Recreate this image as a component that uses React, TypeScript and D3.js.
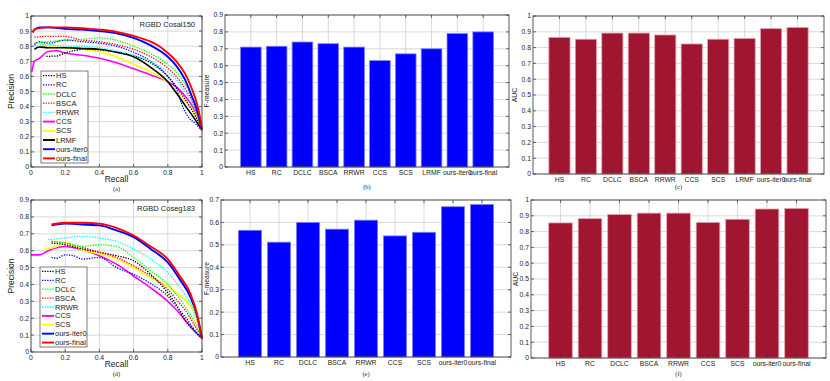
import React, { useRef, useEffect } from 'react';
import * as d3 from 'd3';

// method names / bar values
const methodsTop = ['HS', 'RC', 'DCLC', 'BSCA', 'RRWR', 'CCS', 'SCS', 'LRMF', 'ours-iter0', 'ours-final'];
const fmeasureTop = [0.71, 0.715, 0.74, 0.73, 0.71, 0.63, 0.67, 0.70, 0.79, 0.80];
const aucTop = [0.865, 0.853, 0.892, 0.892, 0.88, 0.823, 0.853, 0.858, 0.92, 0.928];

const methodsBottom = ['HS', 'RC', 'DCLC', 'BSCA', 'RRWR', 'CCS', 'SCS', 'ours-iter0', 'ours-final'];
const fmeasureBottom = [0.565, 0.512, 0.60, 0.57, 0.61, 0.54, 0.556, 0.67, 0.68];
const aucBottom = [0.855, 0.882, 0.908, 0.917, 0.917, 0.858, 0.878, 0.943, 0.947];

// line style per method
const lineColor: Record<string, string> = {
  'HS': '#000000', 'RC': '#0000ff', 'DCLC': '#00ff00', 'BSCA': '#ff0000', 'RRWR': '#00ffff',
  'CCS': '#ff00ff', 'SCS': '#ffff00', 'LRMF': '#000000', 'ours-iter0': '#0000ff', 'ours-final': '#ff0000'
};
const dotted = ['HS', 'RC', 'DCLC', 'BSCA', 'RRWR'];

// PR curves, RGBD Cosal150 : [recall, precision]
const prCosal: Record<string, number[][]> = {
  'CCS': [[0.005, 0.63], [0.02, 0.70], [0.05, 0.72], [0.1, 0.765], [0.15, 0.77], [0.2, 0.755], [0.3, 0.74], [0.4, 0.72], [0.5, 0.69], [0.6, 0.65], [0.7, 0.61], [0.8, 0.565], [0.85, 0.53], [0.9, 0.47], [0.95, 0.39], [1, 0.25]],
  'SCS': [[0.02, 0.82], [0.05, 0.82], [0.1, 0.80], [0.2, 0.79], [0.3, 0.78], [0.4, 0.765], [0.5, 0.73], [0.6, 0.68], [0.7, 0.63], [0.8, 0.56], [0.85, 0.50], [0.9, 0.44], [0.95, 0.37], [1, 0.25]],
  'HS': [[0.09, 0.733], [0.15, 0.735], [0.2, 0.755], [0.25, 0.77], [0.3, 0.78], [0.4, 0.775], [0.5, 0.76], [0.6, 0.735], [0.7, 0.69], [0.8, 0.60], [0.85, 0.53], [0.9, 0.45], [0.95, 0.36], [1, 0.25]],
  'LRMF': [[0.02, 0.78], [0.05, 0.795], [0.1, 0.79], [0.2, 0.79], [0.3, 0.785], [0.4, 0.78], [0.5, 0.76], [0.6, 0.73], [0.7, 0.66], [0.8, 0.565], [0.85, 0.49], [0.9, 0.41], [0.95, 0.33], [1, 0.245]],
  'RRWR': [[0.02, 0.80], [0.1, 0.81], [0.2, 0.80], [0.3, 0.80], [0.4, 0.79], [0.5, 0.77], [0.6, 0.74], [0.7, 0.70], [0.8, 0.63], [0.85, 0.58], [0.9, 0.50], [0.95, 0.40], [1, 0.25]],
  'RC': [[0.02, 0.81], [0.05, 0.83], [0.1, 0.82], [0.2, 0.84], [0.3, 0.83], [0.4, 0.82], [0.5, 0.80], [0.6, 0.76], [0.7, 0.70], [0.8, 0.60], [0.85, 0.52], [0.88, 0.42], [0.92, 0.33], [0.96, 0.29], [1, 0.24]],
  'BSCA': [[0.02, 0.86], [0.1, 0.865], [0.2, 0.865], [0.3, 0.84], [0.4, 0.83], [0.5, 0.81], [0.6, 0.78], [0.7, 0.73], [0.8, 0.655], [0.85, 0.60], [0.9, 0.52], [0.95, 0.42], [1, 0.25]],
  'DCLC': [[0.02, 0.82], [0.1, 0.83], [0.2, 0.84], [0.3, 0.845], [0.4, 0.855], [0.5, 0.84], [0.6, 0.80], [0.7, 0.75], [0.8, 0.68], [0.85, 0.63], [0.9, 0.55], [0.95, 0.44], [1, 0.25]],
  'ours-iter0': [[0.02, 0.91], [0.05, 0.925], [0.1, 0.925], [0.2, 0.915], [0.3, 0.91], [0.4, 0.90], [0.5, 0.885], [0.6, 0.855], [0.7, 0.805], [0.8, 0.73], [0.85, 0.67], [0.9, 0.58], [0.94, 0.47], [0.97, 0.38], [1, 0.245]],
  'ours-final': [[0.01, 0.89], [0.02, 0.91], [0.05, 0.92], [0.1, 0.925], [0.2, 0.925], [0.3, 0.92], [0.4, 0.91], [0.5, 0.895], [0.6, 0.868], [0.7, 0.83], [0.75, 0.80], [0.8, 0.755], [0.85, 0.70], [0.9, 0.62], [0.94, 0.52], [0.97, 0.42], [0.99, 0.32], [1, 0.245]]
};

// PR curves, RGBD Coseg183
const prCoseg: Record<string, number[][]> = {
  'CCS': [[0, 0.575], [0.05, 0.575], [0.1, 0.60], [0.2, 0.625], [0.3, 0.605], [0.4, 0.57], [0.5, 0.52], [0.6, 0.45], [0.7, 0.38], [0.8, 0.30], [0.85, 0.25], [0.9, 0.19], [0.95, 0.13], [1, 0.08]],
  'RC': [[0.12, 0.56], [0.15, 0.555], [0.2, 0.575], [0.25, 0.57], [0.3, 0.55], [0.4, 0.56], [0.5, 0.50], [0.6, 0.46], [0.7, 0.405], [0.8, 0.33], [0.85, 0.27], [0.9, 0.21], [0.95, 0.14], [1, 0.08]],
  'HS': [[0.12, 0.645], [0.2, 0.635], [0.3, 0.61], [0.4, 0.59], [0.5, 0.57], [0.6, 0.54], [0.7, 0.46], [0.8, 0.35], [0.85, 0.28], [0.9, 0.19], [0.95, 0.13], [1, 0.08]],
  'SCS': [[0.08, 0.61], [0.15, 0.625], [0.2, 0.65], [0.3, 0.605], [0.4, 0.58], [0.5, 0.55], [0.6, 0.50], [0.7, 0.44], [0.8, 0.39], [0.85, 0.35], [0.9, 0.31], [0.95, 0.24], [1, 0.08]],
  'BSCA': [[0.12, 0.655], [0.2, 0.645], [0.3, 0.62], [0.4, 0.59], [0.5, 0.56], [0.6, 0.51], [0.7, 0.45], [0.8, 0.37], [0.85, 0.31], [0.9, 0.25], [0.95, 0.17], [1, 0.08]],
  'DCLC': [[0.12, 0.655], [0.2, 0.645], [0.3, 0.625], [0.4, 0.635], [0.5, 0.625], [0.6, 0.56], [0.7, 0.48], [0.8, 0.40], [0.85, 0.34], [0.9, 0.27], [0.95, 0.19], [1, 0.08]],
  'RRWR': [[0.1, 0.665], [0.2, 0.675], [0.3, 0.685], [0.4, 0.675], [0.5, 0.655], [0.6, 0.61], [0.7, 0.55], [0.8, 0.47], [0.85, 0.41], [0.9, 0.34], [0.95, 0.25], [1, 0.08]],
  'ours-iter0': [[0.12, 0.75], [0.2, 0.76], [0.3, 0.755], [0.4, 0.75], [0.5, 0.72], [0.6, 0.68], [0.7, 0.61], [0.8, 0.53], [0.87, 0.43], [0.93, 0.33], [0.97, 0.22], [1, 0.08]],
  'ours-final': [[0.12, 0.755], [0.2, 0.765], [0.3, 0.765], [0.4, 0.76], [0.5, 0.735], [0.6, 0.69], [0.7, 0.625], [0.8, 0.55], [0.87, 0.45], [0.93, 0.35], [0.97, 0.23], [1, 0.08]]
};

const FONT = 'Liberation Sans, Arial, sans-serif';
const GRID = '#cfcfcf';

type Box = { left: number; right: number; top: number; bottom: number };

const fmtTick = (d: number) => String(+d.toFixed(1));

// grid lines behind the marks
function drawGrid(g: any, x: any, y: any, box: Box, xTicks: number[], yTicks: number[]) {
  g.append('g').selectAll('line').data(xTicks).join('line')
    .attr('x1', (d: number) => x(d)).attr('x2', (d: number) => x(d))
    .attr('y1', box.top).attr('y2', box.bottom)
    .attr('stroke', GRID).attr('stroke-width', 0.8);
  g.append('g').selectAll('line').data(yTicks).join('line')
    .attr('x1', box.left).attr('x2', box.right)
    .attr('y1', (d: number) => y(d)).attr('y2', (d: number) => y(d))
    .attr('stroke', GRID).attr('stroke-width', 0.8);
}

// frame + inward ticks on all four sides, and the tick labels
function drawTicks(g: any, x: any, y: any, box: Box, xTicks: number[], yTicks: number[], xLabels: string[], labelDy: number) {
  const t = 3;
  const tk = g.append('g').attr('stroke', '#333').attr('stroke-width', 0.7);
  xTicks.forEach(d => {
    tk.append('line').attr('x1', x(d)).attr('x2', x(d)).attr('y1', box.bottom).attr('y2', box.bottom - t);
    tk.append('line').attr('x1', x(d)).attr('x2', x(d)).attr('y1', box.top).attr('y2', box.top + t);
  });
  yTicks.forEach(d => {
    tk.append('line').attr('x1', box.left).attr('x2', box.left + t).attr('y1', y(d)).attr('y2', y(d));
    tk.append('line').attr('x1', box.right).attr('x2', box.right - t).attr('y1', y(d)).attr('y2', y(d));
  });
  g.append('rect').attr('x', box.left).attr('y', box.top)
    .attr('width', box.right - box.left).attr('height', box.bottom - box.top)
    .attr('fill', 'none').attr('stroke', '#333').attr('stroke-width', 0.8);

  g.append('g').selectAll('text').data(xTicks).join('text')
    .attr('x', (d: number) => x(d)).attr('y', box.bottom + labelDy)
    .attr('text-anchor', 'middle').attr('font-size', 6.8).attr('font-family', FONT).attr('fill', '#222')
    .text((d: number, i: number) => xLabels[i]);
  g.append('g').selectAll('text').data(yTicks).join('text')
    .attr('x', box.left - 2).attr('y', (d: number) => y(d) + 2.4)
    .attr('text-anchor', 'end').attr('font-size', 6.8).attr('font-family', FONT).attr('fill', '#222')
    .text((d: number) => fmtTick(d));
}

function yLabel(g: any, text: string, x: number, y: number, size: number) {
  g.append('text').attr('transform', `translate(${x},${y}) rotate(-90)`)
    .attr('text-anchor', 'middle').attr('font-size', size).attr('font-family', FONT).attr('fill', '#222')
    .text(text);
}

function caption(g: any, text: string, x: number, y: number) {
  g.append('text').attr('x', x).attr('y', y).attr('text-anchor', 'middle')
    .attr('font-size', 6.5).attr('font-family', 'Liberation Serif, serif').attr('fill', '#222').text(text);
}

function drawPR(g: any, curves: Record<string, number[][]>, order: string[], box: Box, yMax: number, title: string, legendBox: Box, cap: string) {
  const x = d3.scaleLinear().domain([0, 1]).range([box.left, box.right]);
  const y = d3.scaleLinear().domain([0, yMax]).range([box.bottom, box.top]);
  const xTicks = d3.range(0, 1.01, 0.2).map(v => +v.toFixed(1));
  const yTicks = d3.range(0, yMax + 0.01, 0.1).map(v => +v.toFixed(1));
  g.append('rect').attr('x', box.left).attr('y', box.top).attr('width', box.right - box.left)
    .attr('height', box.bottom - box.top).attr('fill', '#fff');
  drawGrid(g, x, y, box, xTicks, yTicks);

  const line = d3.line<number[]>().x(d => x(d[0])).y(d => y(d[1])).curve(d3.curveMonotoneX);
  // draw in a stacking order so ours lines end on top
  const drawOrder = ['CCS', 'SCS', 'HS', 'LRMF', 'RC', 'RRWR', 'BSCA', 'DCLC', 'ours-iter0', 'ours-final'];
  drawOrder.filter(m => curves[m]).forEach(m => {
    const isDot = dotted.includes(m);
    g.append('path').datum(curves[m]).attr('d', line).attr('fill', 'none')
      .attr('stroke', lineColor[m])
      .attr('stroke-width', isDot ? 1.3 : (m.startsWith('ours') ? 1.9 : 1.6))
      .attr('stroke-dasharray', isDot ? '1.3,1.3' : null);
  });

  drawTicks(g, x, y, box, xTicks, yTicks, xTicks.map(fmtTick), 7.5);

  g.append('text').attr('x', box.right - 7).attr('y', box.top + 11).attr('text-anchor', 'end')
    .attr('font-size', 7.5).attr('font-family', FONT).attr('fill', '#222').text(title);

  // legend
  g.append('rect').attr('x', legendBox.left).attr('y', legendBox.top)
    .attr('width', legendBox.right - legendBox.left).attr('height', legendBox.bottom - legendBox.top)
    .attr('fill', '#fff').attr('stroke', '#444').attr('stroke-width', 0.7);
  const step = (legendBox.bottom - legendBox.top) / order.length;
  order.forEach((m, i) => {
    const cy = legendBox.top + step * (i + 0.5);
    const isDot = dotted.includes(m);
    g.append('line').attr('x1', legendBox.left + 2).attr('x2', legendBox.left + 14)
      .attr('y1', cy).attr('y2', cy).attr('stroke', lineColor[m])
      .attr('stroke-width', isDot ? 1.3 : 1.9).attr('stroke-dasharray', isDot ? '1.3,1.3' : null);
    g.append('text').attr('x', legendBox.left + 15).attr('y', cy + 2.6)
      .attr('font-size', 7.5).attr('font-family', FONT).attr('fill', '#222').text(m);
  });

  yLabel(g, 'Precision', 14, (box.top + box.bottom) / 2, 8.5);
  g.append('text').attr('x', (box.left + box.right) / 2).attr('y', box.bottom + 14.5).attr('text-anchor', 'middle')
    .attr('font-size', 8.5).attr('font-family', FONT).attr('fill', '#222').text('Recall');
  caption(g, cap, (box.left + box.right) / 2, box.bottom + 23.5);
}

function drawBars(g: any, names: string[], values: number[], box: Box, yMax: number, fill: string, edge: string,
  label: string, labelX: number, cap: string, capY: number) {
  const n = names.length;
  const x = d3.scaleLinear().domain([0, n + 1]).range([box.left, box.right]);
  const y = d3.scaleLinear().domain([0, yMax]).range([box.bottom, box.top]);
  const xTicks = d3.range(1, n + 1);
  const yTicks = d3.range(0, yMax + 0.01, 0.1).map(v => +v.toFixed(1));
  drawGrid(g, x, y, box, xTicks, yTicks);
  const bw = (x(1) - x(0)) * 0.8;
  g.append('g').selectAll('rect').data(values).join('rect')
    .attr('x', (d: number, i: number) => x(i + 1) - bw / 2).attr('width', bw)
    .attr('y', (d: number) => y(d)).attr('height', (d: number) => y(0) - y(d))
    .attr('fill', fill).attr('stroke', edge).attr('stroke-width', 0.8);
  drawTicks(g, x, y, box, xTicks, yTicks, names, 7.5);
  yLabel(g, label, labelX, (box.top + box.bottom) / 2, 6.8);
  caption(g, cap, (box.left + box.right) / 2, capY);
}

const App = () => {
  const ref = useRef<SVGSVGElement>(null);

  useEffect(() => {
    const svg = d3.select(ref.current);
    svg.selectAll('*').remove();
    const g = svg.append('g');

    drawPR(g, prCosal, methodsTop, { left: 31, right: 202, top: 16, bottom: 167 }, 1, 'RGBD Cosal150',
      { left: 41, right: 88, top: 71, bottom: 163 }, '(a)');
    drawPR(g, prCoseg, methodsBottom, { left: 31, right: 202, top: 200, bottom: 352 }, 0.9, 'RGBD Coseg183',
      { left: 40, right: 87, top: 267, bottom: 347 }, '(d)');

    drawBars(g, methodsTop, fmeasureTop, { left: 225, right: 509, top: 15, bottom: 167 }, 0.9,
      '#0000ff', '#8080ff', 'F-measure', 209, '(b)', 189);
    drawBars(g, methodsTop, aucTop, { left: 533, right: 824, top: 16, bottom: 174 }, 1,
      '#a01530', '#e8a0b0', 'AUC', 517, '(c)', 189);
    drawBars(g, methodsBottom, fmeasureBottom, { left: 221, right: 511, top: 200, bottom: 357 }, 0.7,
      '#0000ff', '#8080ff', 'F-measure', 209, '(e)', 376);
    drawBars(g, methodsBottom, aucBottom, { left: 531, right: 826, top: 200, bottom: 358 }, 1,
      '#a01530', '#e8a0b0', 'AUC', 518, '(f)', 376);
  }, []);

  return (
    <svg ref={ref} width={830} height={381}
      style={{ position: 'absolute', left: 0, top: 0, background: '#fff' }} />
  );
};

export default App;
